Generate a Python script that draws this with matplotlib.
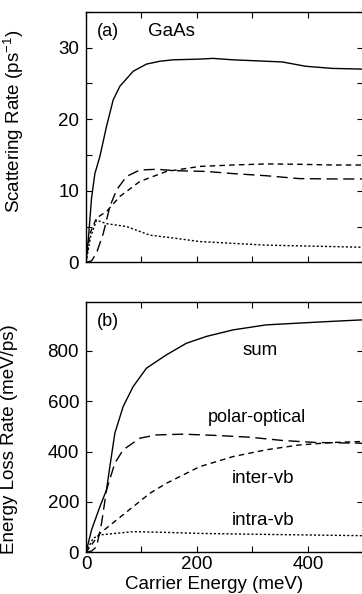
import matplotlib
matplotlib.use("Agg")
import matplotlib.pyplot as plt
from matplotlib.ticker import MultipleLocator

plt.rcParams['font.family'] = ['Liberation Sans', 'DejaVu Sans']
plt.rcParams['font.size'] = 13.5

# (a) scattering rate, ps^-1
e_sum_a = [0, 5, 10, 16, 25, 37, 49, 61, 85, 109, 133, 157, 205, 229, 265, 325, 354, 396, 444, 500]
r_sum = [0, 4, 9, 12.4, 14.8, 19, 22.7, 24.6, 26.7, 27.7, 28.1, 28.3, 28.4, 28.5, 28.3, 28.1, 28.0, 27.4, 27.1, 27.0]
e_pol_a = [0, 10, 19, 31, 43, 55, 73, 97, 127, 163, 217, 265, 325, 384, 444, 500]
r_pol = [0, 0.2, 1.3, 4, 7.8, 10.1, 12, 12.9, 13.0, 12.8, 12.7, 12.4, 12.1, 11.7, 11.65, 11.65]
e_inter_a = [0, 7, 19, 37, 61, 97, 145, 205, 265, 325, 384, 444, 500]
r_inter = [0, 4, 6.2, 7.1, 9.2, 11.3, 12.7, 13.4, 13.6, 13.75, 13.7, 13.6, 13.6]
e_intra_a = [0, 8, 19, 37, 73, 115, 157, 205, 265, 325, 384, 444, 500]
r_intra = [0, 3.5, 5.9, 5.4, 5.0, 3.8, 3.4, 2.9, 2.65, 2.4, 2.3, 2.2, 2.1]

# (b) energy loss rate, meV/ps
e_sum_b = [0, 10, 25, 37, 43, 52, 67, 85, 109, 145, 181, 217, 265, 325, 384, 444, 500]
l_sum = [0, 89, 181, 248, 340, 473, 579, 658, 731, 784, 830, 857, 883, 903, 910, 917, 923]
e_pol_b = [0, 10, 19, 28, 37, 52, 67, 97, 127, 175, 235, 295, 354, 414, 500]
l_pol = [0, 5, 22, 115, 248, 354, 407, 453, 466, 469, 464, 457, 444, 436, 433]
e_inter_b = [0, 25, 55, 85, 115, 145, 205, 265, 325, 384, 444, 500]
l_inter = [0, 75, 128, 181, 234, 274, 340, 380, 407, 426, 436, 440]
e_intra_b = [0, 13, 25, 85, 145, 205, 325, 500]
l_intra = [0, 56, 69, 82, 79, 75, 71, 66]

fig = plt.figure(figsize=(3.62, 5.94), dpi=100)
ax1 = fig.add_axes([0.2376, 0.5584, 0.766, 0.4216])
ax2 = fig.add_axes([0.2376, 0.0702, 0.766, 0.4219])

lw = 1.0
ax1.plot(e_sum_a, r_sum, color='k', lw=lw)
ax1.plot(e_pol_a, r_pol, color='k', lw=lw, dashes=(8, 4))
ax1.plot(e_inter_a, r_inter, color='k', lw=lw, dashes=(4, 3))
ax1.plot(e_intra_a, r_intra, color='k', lw=lw, dashes=(1.5, 1.5))

ax2.plot(e_sum_b, l_sum, color='k', lw=lw)
ax2.plot(e_pol_b, l_pol, color='k', lw=lw, dashes=(8, 4))
ax2.plot(e_inter_b, l_inter, color='k', lw=lw, dashes=(4, 3))
ax2.plot(e_intra_b, l_intra, color='k', lw=lw, dashes=(1.5, 1.5))

ax1.set_xlim(0, 500)
ax1.set_ylim(0, 35)
ax1.xaxis.set_major_locator(MultipleLocator(100))
ax1.yaxis.set_major_locator(MultipleLocator(10))
ax1.yaxis.set_minor_locator(MultipleLocator(5))
ax1.set_xticklabels([])
ax1.set_ylabel("Scattering Rate (ps$^{\\mathregular{-1}}$)")
ax1.yaxis.set_label_coords(-0.216, 0.564)

ax2.set_xlim(0, 500)
ax2.set_ylim(0, 995)
ax2.xaxis.set_major_locator(MultipleLocator(200))
ax2.xaxis.set_minor_locator(MultipleLocator(100))
ax2.yaxis.set_major_locator(MultipleLocator(200))
ax2.set_xlabel("Carrier Energy (meV)")
ax2.xaxis.set_label_coords(0.46, -0.093)
ax2.set_ylabel("Energy Loss Rate (meV/ps)")
ax2.yaxis.set_label_coords(-0.245, 0.452)

for ax in (ax1, ax2):
    ax.tick_params(which='both', direction='in', top=True, right=True,
                   length=4, width=0.8, pad=5)
    for s in ax.spines.values():
        s.set_linewidth(1.0)
ax2.tick_params(axis='x', pad=3)

ax1.text(0.04, 0.955, "(a)", transform=ax1.transAxes, va='top', fontsize=13)
ax1.text(0.225, 0.955, "GaAs", transform=ax1.transAxes, va='top', fontsize=13.5)
ax2.text(0.04, 0.955, "(b)", transform=ax2.transAxes, va='top', fontsize=13)
ax2.text(314, 803, "sum", ha='center', va='center', fontsize=13.5)
ax2.text(308, 537, "polar-optical", ha='center', va='center', fontsize=13)
ax2.text(319, 295, "inter-vb", ha='center', va='center', fontsize=13.5)
ax2.text(320, 125, "intra-vb", ha='center', va='center', fontsize=13.5)

fig.savefig("out.png", dpi=100)
